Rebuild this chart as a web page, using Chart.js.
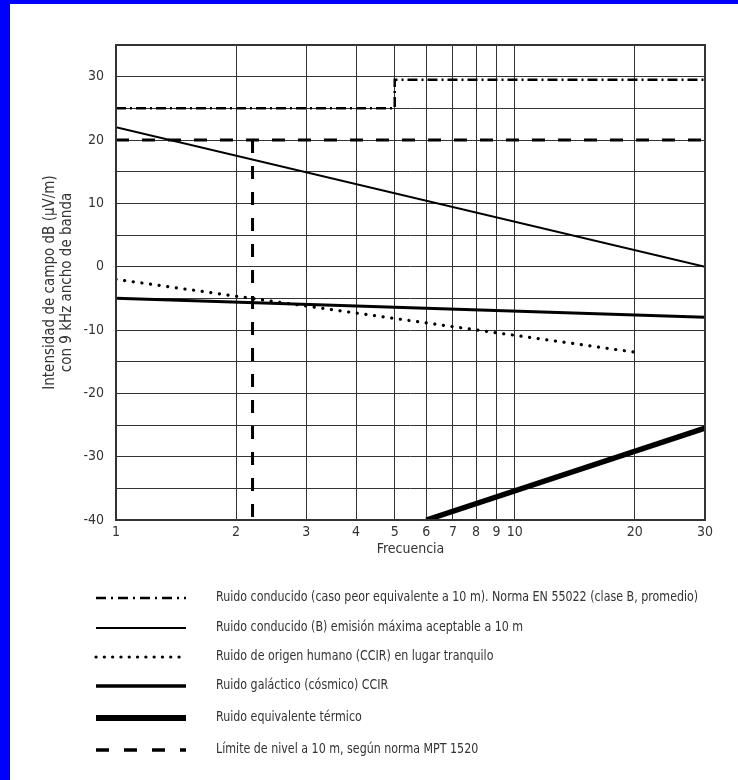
<!DOCTYPE html>
<html>
<head>
<meta charset="utf-8">
<script src="https://cdn.jsdelivr.net/npm/chart.js@4"></script>
<style>
  body { margin: 0; background: #fff; }
  #wrap {
    position: relative; width: 738px; height: 780px; box-sizing: border-box;
    border-left: 10px solid #0000ff; border-top: 4px solid #0000ff; background: #fff;
  }
  canvas { display: block; }
</style>
</head>
<body>
<div id="wrap"><canvas id="chart" width="728" height="776"></canvas></div>
<script>
// ticks
const freqTicks = [1, 2, 3, 4, 5, 6, 7, 8, 9, 10, 20, 30];
const levelTicks = [-40, -35, -30, -25, -20, -15, -10, -5, 0, 5, 10, 15, 20, 25, 30, 35];

// series (frecuencia, dB)
const enX = [1, 5, 5, 30];
const enY = [25, 25, 29.5, 29.5];
const emisionX = [1, 30];
const emisionY = [22, 0];
const humanoX = [1, 20];
const humanoY = [-2, -13.5];
const galacticoX = [1, 30];
const galacticoY = [-5, -8];
const termicoX = [6, 30];
const termicoY = [-40, -25.5];
const mptX = [1, 30, null, 2.2, 2.2];
const mptY = [20, 20, null, 20, -40];

const labels = [
  "Ruido conducido (caso peor equivalente a 10 m). Norma EN 55022 (clase B, promedio)",
  "Ruido conducido (B) emisión máxima aceptable a 10 m",
  "Ruido de origen humano (CCIR) en lugar tranquilo",
  "Ruido galáctico (cósmico) CCIR",
  "Ruido equivalente térmico",
  "Límite de nivel a 10 m, según norma MPT 1520",
];

const FONT = "'Liberation Sans Narrow', 'DejaVu Sans Condensed', 'Liberation Sans', sans-serif";
const TXT = "#333";

const pts = (xs, ys) => xs.map((x, i) => ({ x: x, y: ys[i] }));

const makeSet = (label, xs, ys, style) => ({
  label: label,
  data: pts(xs, ys),
  borderColor: "#000",
  backgroundColor: "#000",
  pointRadius: 0,
  fill: false,
  tension: 0,
  spanGaps: false,
  ...style,
});

const datasets = [
  makeSet(labels[0], enX, enY, { borderWidth: 2.5, borderDash: [10, 4, 2, 4] }),
  makeSet(labels[1], emisionX, emisionY, { borderWidth: 2 }),
  makeSet(labels[2], humanoX, humanoY, { borderWidth: 3.2, borderDash: [0.1, 8.6], borderCapStyle: "round" }),
  makeSet(labels[3], galacticoX, galacticoY, { borderWidth: 3 }),
  makeSet(labels[4], termicoX, termicoY, { borderWidth: 5.5 }),
  makeSet(labels[5], mptX, mptY, { borderWidth: 3, borderDash: [13, 13] }),
];

// borde del gráfico + leyenda dibujada abajo
const framePlugin = {
  id: "frame",
  afterDatasetsDraw(chart) {
    const { ctx, chartArea: a } = chart;
    ctx.save();
    ctx.strokeStyle = "#333";
    ctx.lineWidth = 2;
    ctx.strokeRect(a.left, a.top, a.right - a.left, a.bottom - a.top);
    ctx.restore();
  },
  afterDraw(chart) {
    const ctx = chart.ctx;
    const rows = [594, 624, 653, 682, 714, 746];
    const legendWidths = [2.5, 2, 3.2, 3.5, 6, 3.5];
    const legendDash = [[10, 5, 2, 5], [], [0.1, 8.2], [], [], [13, 15]];
    ctx.save();
    chart.data.datasets.forEach((ds, i) => {
      const y = rows[i];
      ctx.beginPath();
      ctx.strokeStyle = "#000";
      ctx.lineWidth = legendWidths[i];
      ctx.lineCap = ds.borderCapStyle === "round" ? "round" : "butt";
      ctx.setLineDash(legendDash[i]);
      ctx.moveTo(86, y);
      ctx.lineTo(176, y);
      ctx.stroke();
      ctx.setLineDash([]);
      // texto estrecho, como la fuente condensada del original
      ctx.save();
      ctx.translate(206, y - 1);
      ctx.scale(0.88, 1);
      ctx.fillStyle = TXT;
      ctx.font = "14px " + FONT;
      ctx.textBaseline = "middle";
      ctx.textAlign = "left";
      ctx.fillText(ds.label, 0, 0);
      ctx.restore();
    });
    ctx.restore();
  },
};

new Chart(document.getElementById("chart"), {
  type: "line",
  data: { datasets: datasets },
  plugins: [framePlugin],
  options: {
    responsive: false,
    animation: false,
    devicePixelRatio: 1,
    layout: { padding: { left: 0, top: 41, right: 33, bottom: 218 } },
    plugins: { legend: { display: false }, tooltip: { enabled: false } },
    scales: {
      x: {
        type: "logarithmic",
        min: 1,
        max: 30,
        afterBuildTicks: (axis) => { axis.ticks = freqTicks.map((v) => ({ value: v })); },
        afterFit: (axis) => { axis.height = 42; },
        grid: { color: "#333", lineWidth: 1, drawTicks: false },
        border: { display: false },
        ticks: {
          autoSkip: false, maxRotation: 0, padding: 4,
          color: TXT, font: { family: FONT, size: 14 },
          callback: (v) => String(v),
        },
        title: {
          display: true, text: "Frecuencia", color: TXT,
          font: { family: FONT, size: 14 }, padding: { top: 0, bottom: 4 },
        },
      },
      y: {
        min: -40,
        max: 35,
        afterBuildTicks: (axis) => { axis.ticks = levelTicks.map((v) => ({ value: v })); },
        afterFit: (axis) => { axis.width = 106; },
        grid: { color: "#333", lineWidth: 1, drawTicks: false },
        border: { display: false },
        ticks: {
          padding: 12, color: TXT, font: { family: FONT, size: 14 },
          callback: (v) => (v % 10 === 0 ? String(v) : ""),
        },
        title: {
          display: true,
          text: ["Intensidad de campo dB (µV/m)", "con 9 kHz ancho de banda"],
          color: TXT, font: { family: FONT, size: 15, lineHeight: 1.1 },
          padding: { top: 32, bottom: 0 },
        },
      },
    },
  },
});
</script>
</body>
</html>
